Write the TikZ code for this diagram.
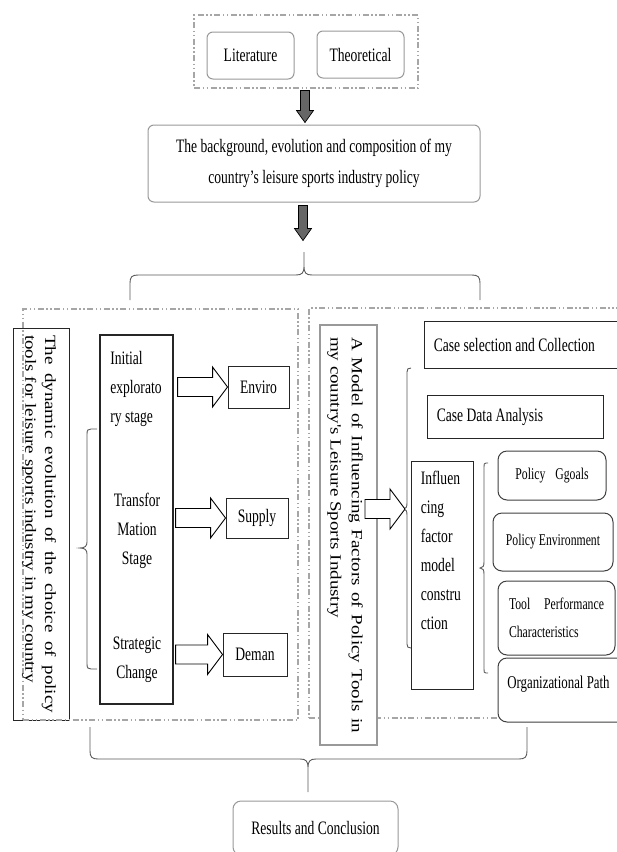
\documentclass[tikz,border=0pt]{standalone}
\usepackage{graphicx}
\usepackage{fontspec}
\setmainfont{Liberation Serif}[FakeStretch=0.715]
\newfontfamily\rotfont{Liberation Serif}
\usetikzlibrary{calc}

% hollow block arrow, pointing right: start, tip
\newcommand{\hollowarrow}[2]{%
  \draw[blockarrow] ($(#1)+(0,-9.5)$) -- ($(#2)+(-15,-9.5)$) -- ($(#2)+(-15,-20)$) -- (#2)
    -- ($(#2)+(-15,20)$) -- ($(#2)+(-15,9.5)$) -- ($(#1)+(0,9.5)$) -- cycle;}
% filled arrow, pointing down: start, tip
\newcommand{\grayarrow}[2]{%
  \draw[grayfat] ($(#1)+(-4.5,0)$) -- ($(#2)+(-4.5,-12)$) -- ($(#2)+(-8.5,-12)$) -- (#2)
    -- ($(#2)+(8.5,-12)$) -- ($(#2)+(4.5,-12)$) -- ($(#1)+(4.5,0)$) -- cycle;}

\begin{document}
\begin{tikzpicture}[x=1pt,y=-1pt,semithick,
  roundbox/.style={draw=black!40,line width=1pt,rounded corners=6pt,fill=white,
    font=\fontsize{19}{31}\selectfont},
  dashbox/.style={draw=black!35,line width=1.1pt,
    dash pattern=on 6pt off 2.5pt on 1.5pt off 2.5pt on 1.5pt off 2.5pt},
  plainbox/.style={draw=black!85,line width=0.9pt,fill=white,inner sep=3pt,
    font=\fontsize{19}{29}\selectfont},
  policybox/.style={draw=black!75,line width=1pt,rounded corners=9pt,fill=white,
    font=\fontsize{16.4}{28}\selectfont},
  txt/.style={inner sep=3pt,font=\fontsize{19}{29}\selectfont},
  rottxt/.style={rotate=-90,inner sep=0pt},
  braceline/.style={draw=black!65,line width=0.9pt},
  blockarrow/.style={draw=black,line width=0.9pt,fill=white},
  grayfat/.style={draw=black,line width=0.7pt,fill=black!60}]
\path[use as bounding box,clip] (0,0) rectangle (617,852);

% top part
\node[dashbox,minimum width=224,minimum height=73] (sources) at (306,51.5) {};
\node[roundbox,minimum width=87,minimum height=47] (lit) at (250.5,55.5) {Literature};
\node[roundbox,minimum width=87,minimum height=47] (theo) at (360.5,54.5) {Theoretical};
\node[roundbox,minimum width=332,minimum height=77,align=center] (bg) at (314,163.5)
  {The background, evolution and composition of my\\country's leisure sports industry policy};
\coordinate (a1s) at ($(sources.south)+(-1,2)$);
\coordinate (a1e) at ($(a1s |- bg.north)+(0,-2)$);
\grayarrow{a1s}{a1e}
\coordinate (a2s) at ($(bg.south)+(-11,3)$);
\coordinate (a2e) at ($(a2s)+(0,35)$);
\grayarrow{a2s}{a2e}
\draw[braceline] (130,300) -- (130,283) .. controls (130,277) and (132,275) .. (138,275) -- (296,275)
  .. controls (302,275) and (304,273) .. (304,266) -- (304,252) -- (304,266)
  .. controls (304,273) and (306,275) .. (312,275) -- (472,275)
  .. controls (478,275) and (480,277) .. (480,283) -- (480,300);

% left block
\node[draw=black!85,line width=0.9pt,minimum width=56,minimum height=392] (dynbox) at (41,524) {};
\node[dashbox,minimum width=275,minimum height=411] (leftarea) at (160.5,514.5) {};
\node[rottxt] (dynamic) at (39,524) {\scalebox{1}[0.82]{\parbox{378pt}{\rotfont\fontsize{19}{24}\selectfont
  \hyphenpenalty=10000 The dynamic evolution of the choice of policy tools for leisure sports industry in my country}}};
\draw[braceline] (97,429) -- (91,429) .. controls (88,429) and (87,430) .. (87,434) -- (87,542)
  .. controls (87,546) and (85,548) .. (80,548) .. controls (85,548) and (87,550) .. (87,554)
  -- (87,664) .. controls (87,668) and (88,669) .. (91,669) -- (97,669);
\node[plainbox,line width=1.3pt,minimum width=73,minimum height=369] (stage) at (136.5,519.5) {};
\node[txt,anchor=west,align=flush left] (initial) at (107,388.5) {Initial\\explorato\\ry stage};
\node[txt,align=center] (transfor) at (137,530.5) {Transfor\\Mation\\Stage};
\node[txt,align=center] (strategic) at (137,660) {Strategic\\Change};
\node[plainbox,minimum width=61,minimum height=42] (enviro) at (258.5,387) {Enviro};
\node[plainbox,minimum width=62,minimum height=40] (supply) at (257,518) {Supply};
\node[plainbox,minimum width=64,minimum height=43] (deman) at (255,654.5) {Deman};
\coordinate (e1) at ($(stage.east |- enviro.west)+(4,0)$);
\hollowarrow{e1}{enviro.west}
\coordinate (e2) at ($(stage.east |- supply.west)+(2,0)$);
\hollowarrow{e2}{supply.west}
\coordinate (e3) at ($(stage.east |- deman.west)+(2,0)$);
\hollowarrow{e3}{deman.west}

% right block
\node[dashbox,minimum width=331,minimum height=410] (rightarea) at (474.5,513) {};
\node[draw=black!40,line width=1.3pt,fill=white,minimum width=57,minimum height=420] (modelbox) at (348.5,535) {};
\node[rottxt] (model) at (345,535) {\scalebox{1}[0.82]{\parbox{396pt}{\rotfont\fontsize{19}{26}\selectfont
  \hyphenpenalty=10000 A Model of Influencing Factors of Policy Tools in my country's Leisure Sports Industry}}};
\node[plainbox,minimum width=206,minimum height=47] (casesel) at (527,344.5) {};
\node[txt,anchor=west] (caseseltext) at ($(casesel.west)+(7,0)$) {Case selection and Collection};
\node[plainbox,minimum width=176,minimum height=43] (casedata) at (515,416.5) {};
\node[txt,anchor=west] (casedatatext) at ($(casedata.west)+(7,0)$) {Case Data Analysis};
\draw[braceline] (411,368) .. controls (408,368) and (407,369) .. (407,372) -- (407,503)
  .. controls (407,507) and (406,509) .. (403,509) .. controls (406,509) and (407,511) .. (407,515)
  -- (407,644) .. controls (407,647) and (408,648) .. (411,648);
\node[plainbox,minimum width=62,minimum height=228] (infl) at (442,575) {};
\node[txt,anchor=north west,align=flush left] (infltext) at ($(infl.north west)+(7,7)$)
  {Influen\\cing\\factor\\model\\constru\\ction};
\coordinate (m1) at (365,509);
\coordinate (m2) at (405,509);
\hollowarrow{m1}{m2}
\draw[braceline] (488,463) -- (486,463) .. controls (484,463) and (484,464) .. (484,467) -- (484,562)
  .. controls (484,566) and (483,568) .. (480,568) .. controls (483,568) and (484,570) .. (484,574)
  -- (484,669) .. controls (484,672) and (484,673) .. (486,673) -- (488,673);
\node[policybox,minimum width=108,minimum height=49] (goals) at (552,475.5) {Policy\hspace{10pt}Ggoals};
\node[policybox,minimum width=120,minimum height=58] (environment) at (553,542) {Policy Environment};
\node[policybox,minimum width=117,minimum height=74,text width=95,align=flush left] (toolperf) at (556.5,618)
  {Tool\hfill Performance\\Characteristics};
\node[policybox,minimum width=130,minimum height=64] (orgpath) at (563,690) {};
\node[txt,anchor=west,font=\fontsize{18}{29}\selectfont] (orgpathtext) at (504,684) {Organizational Path};

% bottom
\draw[braceline] (90,727) -- (90,751) .. controls (90,757) and (92,759) .. (98,759) -- (300,759)
  .. controls (306,759) and (308,761) .. (308,768) -- (308,792) -- (308,768)
  .. controls (308,761) and (310,759) .. (316,759) -- (519,759)
  .. controls (525,759) and (527,757) .. (527,751) -- (527,727);
\node[roundbox,rounded corners=8pt,minimum width=165,minimum height=54] (results) at (315.5,828)
  {Results and Conclusion};
\end{tikzpicture}
\end{document}
